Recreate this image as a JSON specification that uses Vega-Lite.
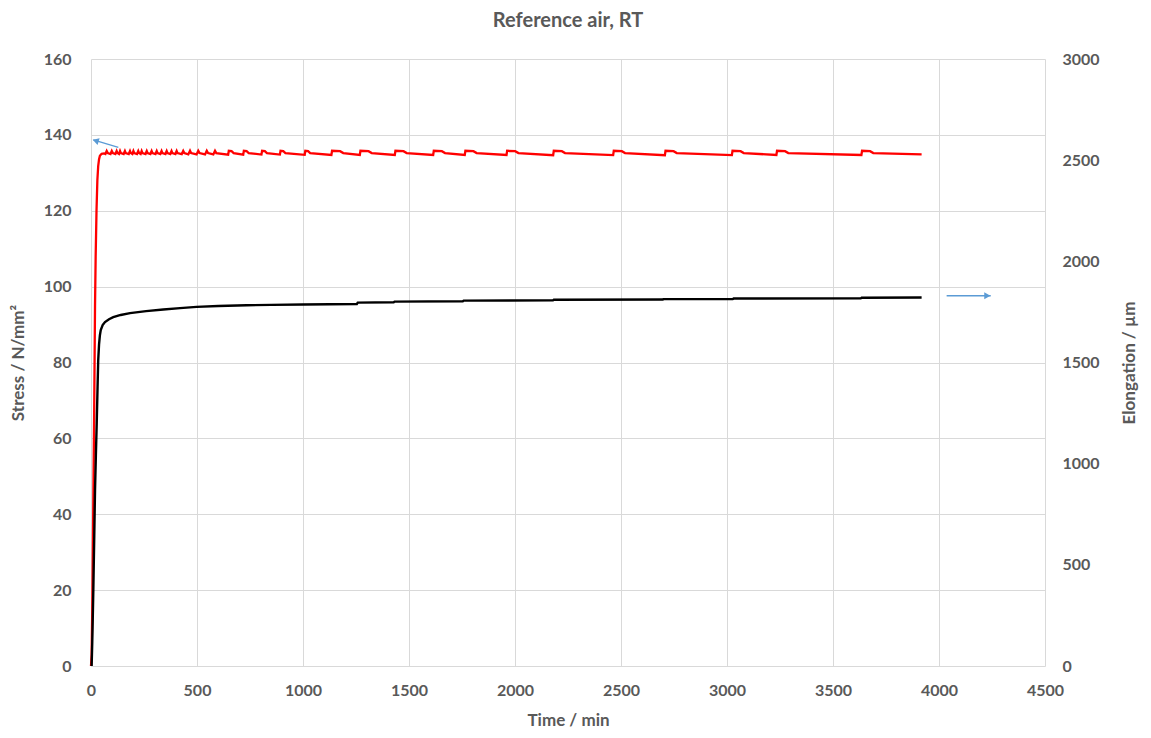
{
  "$schema": "https://vega.github.io/schema/vega-lite/v6.json",
  "width": 954,
  "height": 607,
  "autosize": "none",
  "padding": {"left": 91, "top": 59, "right": 106, "bottom": 72},
  "background": "white",
  "title": {"text": "Reference air, RT", "font": "Lato", "fontSize": 20, "fontWeight": "bold", "color": "#595959", "offset": 20, "anchor": "middle"},
  "config": {
    "view": {"stroke": null},
    "axis": {"labelFont": "Lato", "labelFontSize": 16, "labelColor": "#595959", "labelFontWeight": "bold", "titleFont": "Lato", "titleFontSize": 17, "titleColor": "#595959", "titleFontWeight": "bold", "domain": false, "ticks": false, "gridColor": "#d9d9d9", "gridWidth": 1, "labelFlush": false}
  },
  "datasets": {
    "stress": [
      {"t":0,"s":0},{"t":3,"s":3},{"t":6,"s":15},{"t":9,"s":32},{"t":12,"s":50},{"t":15,"s":67},{"t":19,"s":95},{"t":22,"s":108},{"t":26,"s":120},{"t":30,"s":128},{"t":34,"s":131.8},{"t":38,"s":133.6},{"t":42,"s":134.5},{"t":50,"s":135},{"t":62,"s":135.1},
      {"t":68,"s":134.95},{"t":74,"s":135.75},{"t":79,"s":135.2},
      {"t":92,"s":134.95},{"t":98,"s":135.75},{"t":103,"s":135.2},
      {"t":115,"s":134.95},{"t":121,"s":135.75},{"t":125,"s":135.2},
      {"t":132,"s":134.95},{"t":137,"s":135.75},{"t":141,"s":135.2},
      {"t":154,"s":134.95},{"t":160,"s":135.75},{"t":164,"s":135.2},
      {"t":178,"s":134.95},{"t":184,"s":135.75},{"t":188,"s":135.2},
      {"t":195,"s":134.95},{"t":200,"s":135.75},{"t":204,"s":135.2},
      {"t":217,"s":134.95},{"t":223,"s":135.75},{"t":227,"s":135.2},
      {"t":234,"s":134.95},{"t":239,"s":135.75},{"t":243,"s":135.2},
      {"t":257,"s":134.95},{"t":263,"s":135.75},{"t":267,"s":135.2},
      {"t":280,"s":134.95},{"t":286,"s":135.75},{"t":290,"s":135.2},
      {"t":304,"s":134.95},{"t":310,"s":135.75},{"t":314,"s":135.2},
      {"t":327,"s":134.95},{"t":333,"s":135.75},{"t":337,"s":135.2},
      {"t":351,"s":134.95},{"t":357,"s":135.75},{"t":361,"s":135.2},
      {"t":374,"s":134.95},{"t":380,"s":135.75},{"t":384,"s":135.2},
      {"t":398,"s":134.95},{"t":404,"s":135.75},{"t":408,"s":135.2},
      {"t":428,"s":134.9},{"t":435,"s":135.75},{"t":440,"s":135.2},
      {"t":459,"s":134.85},{"t":467,"s":135.8},{"t":472,"s":135.2},
      {"t":498,"s":134.85},{"t":506,"s":135.8},{"t":512,"s":135.2},
      {"t":538,"s":134.85},{"t":546,"s":135.8},{"t":552,"s":135.2},
      {"t":577,"s":134.85},{"t":585,"s":135.8},{"t":591,"s":135.2},
      {"t":647,"s":134.8},{"t":650,"s":135.8},{"t":663,"s":135.7},{"t":673,"s":135.2},
      {"t":718,"s":134.8},{"t":721,"s":135.8},{"t":734,"s":135.7},{"t":744,"s":135.2},
      {"t":804,"s":134.8},{"t":807,"s":135.8},{"t":820,"s":135.7},{"t":830,"s":135.2},
      {"t":891,"s":134.8},{"t":894,"s":135.8},{"t":907,"s":135.7},{"t":917,"s":135.2},
      {"t":1008,"s":134.75},{"t":1011,"s":135.8},{"t":1024,"s":135.7},{"t":1034,"s":135.2},
      {"t":1134,"s":134.7},{"t":1137,"s":135.8},{"t":1175,"s":135.7},{"t":1190,"s":135.2},
      {"t":1268,"s":134.7},{"t":1271,"s":135.8},{"t":1309,"s":135.7},{"t":1324,"s":135.2},
      {"t":1433,"s":134.7},{"t":1436,"s":135.8},{"t":1474,"s":135.7},{"t":1489,"s":135.2},
      {"t":1614,"s":134.7},{"t":1617,"s":135.8},{"t":1655,"s":135.7},{"t":1670,"s":135.2},
      {"t":1763,"s":134.7},{"t":1766,"s":135.8},{"t":1804,"s":135.7},{"t":1819,"s":135.2},
      {"t":1960,"s":134.7},{"t":1963,"s":135.8},{"t":2001,"s":135.7},{"t":2016,"s":135.2},
      {"t":2180,"s":134.65},{"t":2183,"s":135.8},{"t":2221,"s":135.7},{"t":2236,"s":135.2},
      {"t":2463,"s":134.65},{"t":2466,"s":135.8},{"t":2504,"s":135.7},{"t":2519,"s":135.2},
      {"t":2707,"s":134.65},{"t":2710,"s":135.8},{"t":2748,"s":135.7},{"t":2763,"s":135.2},
      {"t":3023,"s":134.65},{"t":3026,"s":135.8},{"t":3064,"s":135.7},{"t":3079,"s":135.2},
      {"t":3233,"s":134.7},{"t":3236,"s":135.8},{"t":3274,"s":135.7},{"t":3289,"s":135.2},
      {"t":3634,"s":134.7},{"t":3637,"s":135.8},{"t":3675,"s":135.7},{"t":3690,"s":135.2},
      {"t":3918,"s":134.85}
    ],
    "elong": [
      {"t":3,"e":0},{"t":6,"e":120},{"t":8,"e":220},{"t":11,"e":376},{"t":15,"e":620},{"t":19,"e":870},{"t":23,"e":1040},{"t":27,"e":1200},{"t":31,"e":1380},{"t":34,"e":1510},{"t":38,"e":1590},{"t":42,"e":1635},{"t":46,"e":1660},{"t":55,"e":1685},{"t":66,"e":1700},{"t":85,"e":1714},{"t":105,"e":1724},{"t":140,"e":1735},{"t":184,"e":1744},{"t":260,"e":1754},{"t":341,"e":1762},{"t":420,"e":1769},{"t":498,"e":1775},{"t":600,"e":1779},{"t":734,"e":1783},{"t":850,"e":1785},{"t":1000,"e":1787},
      {"t":1254,"e":1789},{"t":1258,"e":1796},{"t":1428,"e":1798},{"t":1432,"e":1801},{"t":1754,"e":1803},{"t":1758,"e":1806},{"t":2179,"e":1807},{"t":2183,"e":1810},{"t":2697,"e":1811},{"t":2701,"e":1813},{"t":3027,"e":1814},{"t":3031,"e":1816},{"t":3631,"e":1817},{"t":3635,"e":1820},{"t":3918,"e":1821}
    ],
    "arrowStress": [{"t":129,"s":136.7,"t2":11,"s2":138.7}],
    "headStress": [{"t":22,"s":138.45}],
    "arrowElong": [{"t":4036,"e":1830,"t2":4244,"e2":1830}],
    "headElong": [{"t":4228,"e":1830}]
  },
  "encoding": {
    "x": {"field": "t", "type": "quantitative", "scale": {"domain": [0, 4500], "nice": false, "zero": false},
      "axis": {"title": "Time / min", "values": [0,500,1000,1500,2000,2500,3000,3500,4000,4500], "grid": true, "labelPadding": 16, "titlePadding": 14, "format": "d", "labelFlush": false}}
  },
  "layer": [
    {
      "encoding": {
        "y": {"field": "s", "type": "quantitative", "scale": {"domain": [0, 160], "nice": false},
          "axis": {"orient": "left", "title": "Stress / N/mm²", "values": [0,20,40,60,80,100,120,140,160], "grid": true, "labelPadding": 20, "titlePadding": 16, "format": "d", "labelFlush": false}}
      },
      "layer": [
        {"data": {"name": "stress"}, "mark": {"type": "line", "color": "#ff0000", "strokeWidth": 2.3}},
        {"data": {"name": "arrowStress"}, "mark": {"type": "rule", "color": "#5b9bd5", "strokeWidth": 1.3}, "encoding": {"x2": {"field": "t2"}, "y2": {"field": "s2"}}},
        {"data": {"name": "headStress"}, "mark": {"type": "point", "shape": "triangle-left", "angle": 17, "filled": true, "opacity": 1, "color": "#5b9bd5", "size": 50}}
      ]
    },
    {
      "encoding": {
        "y": {"field": "e", "type": "quantitative", "scale": {"domain": [0, 3000], "nice": false},
          "axis": {"orient": "right", "title": "Elongation / µm", "values": [0,500,1000,1500,2000,2500,3000], "grid": false, "labelPadding": 17, "titlePadding": 22, "titleAngle": 270, "titleBaseline": "top", "format": "d", "labelFlush": false}}
      },
      "layer": [
        {"data": {"name": "elong"}, "mark": {"type": "line", "color": "#000000", "strokeWidth": 2.4}},
        {"data": {"name": "arrowElong"}, "mark": {"type": "rule", "color": "#5b9bd5", "strokeWidth": 1.3}, "encoding": {"x2": {"field": "t2"}, "y2": {"field": "e2"}}},
        {"data": {"name": "headElong"}, "mark": {"type": "point", "shape": "triangle-right", "filled": true, "opacity": 1, "color": "#5b9bd5", "size": 50}}
      ]
    }
  ],
  "resolve": {"scale": {"y": "independent"}}
}
